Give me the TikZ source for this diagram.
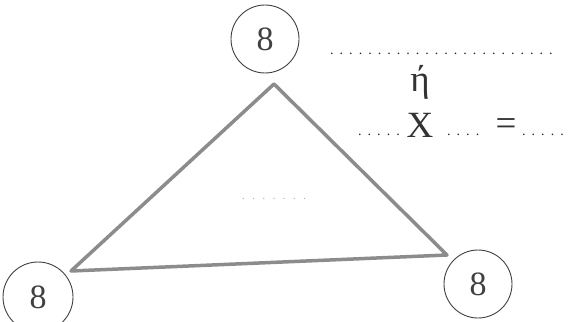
\documentclass[tikz,border=0pt]{standalone}
\usepackage{fontspec}
\setmainfont{Liberation Serif}
\begin{document}
\begin{tikzpicture}[x=1pt,y=-1pt,
  numcircle/.style={circle,draw=black!75,line width=0.9pt,minimum size=#1,inner sep=0pt,font=\fontsize{34}{34}\selectfont,text=black!75},
  tri/.style={draw=black!45,line width=3.5pt,line join=round},
  blank/.style={inner sep=0pt,font=\fontsize{14}{14}\selectfont\addfontfeature{LetterSpace=43},text=black!85},
  big/.style={inner sep=0pt,font=\fontsize{37}{37}\selectfont,text=black!80}]
\useasboundingbox (0,0) rectangle (577,321);
\node[numcircle=68pt] (top) at (265,39) {8};
\node[numcircle=70pt] (bl) at (38,297) {8};
\node[numcircle=68pt] (br) at (478,284) {8};
\coordinate (A) at (274,84);
\coordinate (B) at (71,271);
\coordinate (C) at (447,255);
\draw[tri] (A) -- (B) -- (C) -- cycle;
\node[text=black!30,font=\fontsize{12}{12}\selectfont\addfontfeature{LetterSpace=60}] (mid) at (274,199) {.......};
\node[blank,anchor=base west] (line1) at (330,54) {........................};
\node[big] (eta) at (420,82) {ή};
\node[blank,anchor=base west] (d1) at (358,135) {.....};
\node[big,anchor=base] (x) at (420,137) {X};
\node[blank,anchor=base west] (d2) at (447,135) {....};
\node[big] (eq) at (506,127) {=};
\node[blank,anchor=base west] (d3) at (522,135) {.....};
\end{tikzpicture}
\end{document}
